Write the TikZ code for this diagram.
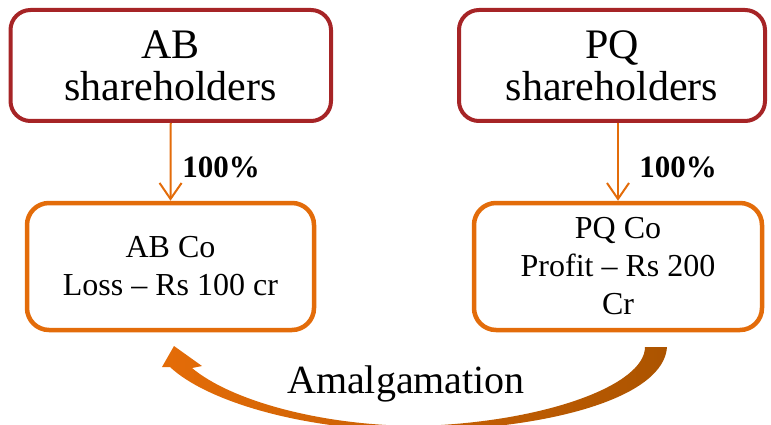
\documentclass[tikz,border=0pt]{standalone}
\usepackage{fontspec}
\setmainfont{Liberation Serif}
\usetikzlibrary{arrows.meta}

\definecolor{ownerRed}{RGB}{166,36,38}
\definecolor{coOrange}{RGB}{227,108,10}
\definecolor{amalgLeft}{RGB}{228,108,8}
\definecolor{amalgRight}{RGB}{172,84,0}

\begin{document}
\begin{tikzpicture}[x=1pt,y=-1pt,
  ownerbox/.style={draw=ownerRed, line width=4pt, rounded corners=20pt,
    align=center, inner sep=0pt, font=\fontsize{42}{42}\selectfont},
  companybox/.style={draw=coOrange, line width=4.5pt, rounded corners=22pt,
    align=center, inner sep=0pt, font=\fontsize{32}{38}\selectfont},
  holding/.style={draw=coOrange, line width=2pt,
    -{Straight Barb[length=16pt,width=22pt]}},
  pct/.style={font=\bfseries\fontsize{31}{32}\selectfont, inner sep=0pt},
]
\useasboundingbox (0,0) rectangle (771,425);

% shareholder groups
\node[ownerbox, minimum width=320.5pt, minimum height=111pt] (abSh) at (170.75,65.5) {AB\\shareholders};
\node[ownerbox, minimum width=306pt, minimum height=111pt] (pqSh) at (612,65.5) {PQ\\shareholders};

% companies
\node[companybox, minimum width=287pt, minimum height=127pt] (abCo) at (170.5,266.5) {AB Co\\Loss -- Rs 100 cr};
\node[companybox, minimum width=288pt, minimum height=127pt] (pqCo) at (618,266.5) {PQ Co\\Profit -- Rs 200\\Cr};

% 100% holdings
\draw[holding] (abSh.south) -- (abCo.north);
\draw[holding] (pqCo.north |- pqSh.south) -- (pqCo.north);
\node[pct] (abPct) at (221,167) {100\%};
\node[pct] (pqPct) at (678,167) {100\%};

% amalgamation arrow (PQ into AB), running below the picture edge
\shade[left color=amalgLeft, right color=amalgRight]
  (667,347) .. controls (664,395) and (560,428) .. (420,431)
  .. controls (300,431) and (205,400) .. (170,367)
  -- (162,367) -- (174,346) -- (202,366) -- (192,368)
  .. controls (230,400) and (320,426) .. (420,426)
  .. controls (545,422) and (645,385) .. (645,347) -- cycle;
\node[font=\fontsize{40}{42}\selectfont, anchor=base, inner sep=0pt] (amalg) at (406,393) {Amalgamation};
\end{tikzpicture}
\end{document}
